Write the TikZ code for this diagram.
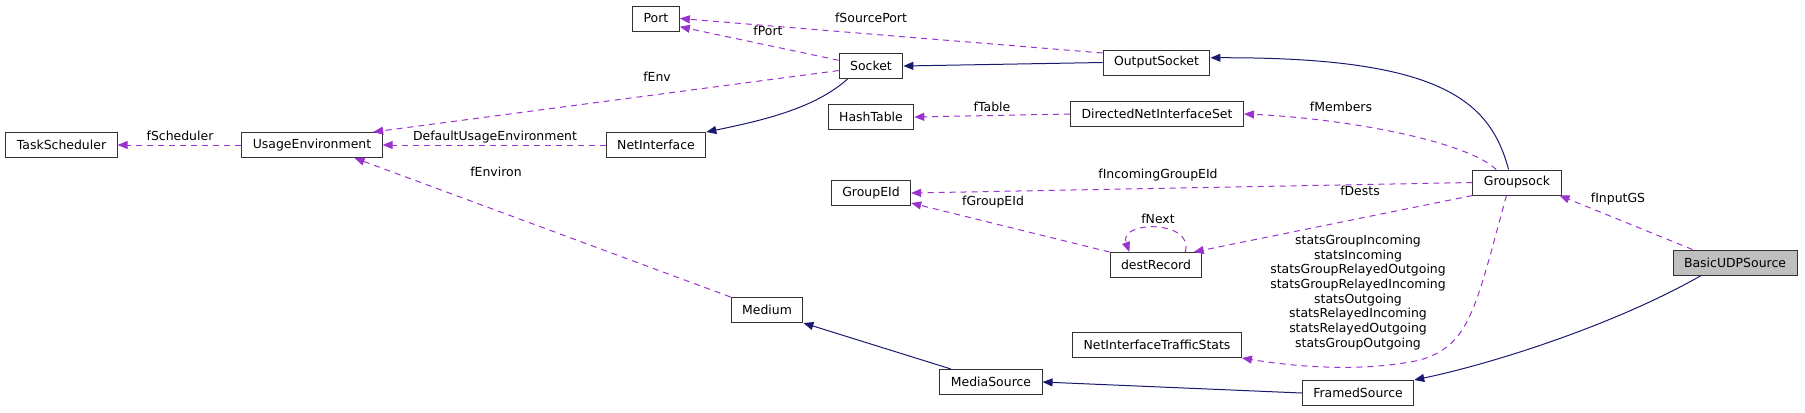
\documentclass[tikz,border=0pt]{standalone}
\usepackage{fontspec}
\setmainfont{DejaVu Sans}
\usetikzlibrary{arrows.meta}
\definecolor{usecol}{HTML}{9A32CD}
\definecolor{inhcol}{HTML}{191970}
\begin{document}
\begin{tikzpicture}[x=1bp, y=-1bp, font=\fontsize{12.5}{14.7}\selectfont,
	cls/.style={draw=black!80, line width=1bp, inner xsep=11bp, inner ysep=0bp, minimum height=25bp},
	uses/.style={draw=usecol, line width=1bp, dash pattern=on 6bp off 5bp, -{Triangle[length=10bp,width=8bp]}},
	inh/.style={draw=inhcol, line width=1bp, -{Triangle[length=10bp,width=8bp]}},
	lbl/.style={inner sep=0pt}]
	\useasboundingbox (0,0) rectangle (1805,412);
	\node[cls] (port) at (656,18.5) {Port};
	\node[cls] (socket) at (871,66) {Socket};
	\node[cls] (outsock) at (1156.5,62.5) {OutputSocket};
	\node[cls] (hash) at (871,117) {HashTable};
	\node[cls] (dnis) at (1157,114) {DirectedNetInterfaceSet};
	\node[cls] (task) at (61.5,145) {TaskScheduler};
	\node[cls] (env) at (312,145) {UsageEnvironment};
	\node[cls] (netif) at (656,145) {NetInterface};
	\node[cls] (geid) at (871,193) {GroupEId};
	\node[cls] (gsock) at (1517,182.5) {Groupsock};
	\node[cls] (drec) at (1156,265) {destRecord};
	\node[cls, fill=black!25] (budp) at (1735,262.5) {BasicUDPSource};
	\node[cls] (medium) at (767,310) {Medium};
	\node[cls] (nits) at (1157,345) {NetInterfaceTrafficStats};
	\node[cls] (msrc) at (991,382) {MediaSource};
	\node[cls] (fsrc) at (1358,393) {FramedSource};
	\draw[uses] (env.west) -- (task.east);
	\draw[uses] (netif.west) -- (env.east);
	\draw[uses] (socket.188) -- (env.12);
	\draw[uses] (medium.north west) -- (env.-17);
	\draw[uses] (socket.170) -- (port.-19);
	\draw[uses] (outsock.170) -- (port.east);
	\draw[inh] (outsock.west) -- (socket.east);
	\draw[inh] (socket.209) .. controls (815,108) and (765,120) .. (netif.north east);
	\draw[uses] (dnis.west) -- (hash.east);
	\draw[uses] (gsock.148) .. controls (1465,140) and (1340,118) .. (dnis.east);
	\draw[inh] (gsock.123) .. controls (1490,100) and (1440,57) .. (outsock.5);
	\draw[uses] (gsock.west) -- (geid.east);
	\draw[uses] (gsock.south west) -- (drec.19);
	\draw[uses] (drec.north west) -- (geid.-14);
	\draw[uses] (drec.24) .. controls (1195,220) and (1118,220) .. (drec.154);
	\draw[uses] (gsock.231) .. controls (1475,310) and (1470,345) .. (1420,360) .. controls (1360,373) and (1290,366) .. (nits.south east);
	\draw[uses] (budp.163) -- (gsock.-17);
	\draw[inh] (budp.201) .. controls (1620,322) and (1500,362) .. (fsrc.north east);
	\draw[inh] (fsrc.west) -- (msrc.east);
	\draw[inh] (msrc.162) -- (medium.south east);
	\node[lbl] (lsched) at (180,136) {fScheduler};
	\node[lbl] (ldefenv) at (495,137) {DefaultUsageEnvironment};
	\node[lbl] (lenv) at (657,77) {fEnv};
	\node[lbl] (lport) at (768,31) {fPort};
	\node[lbl] (lsrcport) at (871,18) {fSourcePort};
	\node[lbl] (ltable) at (992,107) {fTable};
	\node[lbl] (lmembers) at (1341,107) {fMembers};
	\node[lbl] (lincoming) at (1158,175) {fIncomingGroupEId};
	\node[lbl] (ldests) at (1360,191) {fDests};
	\node[lbl] (lgroupeid) at (993,202) {fGroupEId};
	\node[lbl] (lnext) at (1158,219) {fNext};
	\node[lbl] (linput) at (1618,199) {fInputGS};
	\node[lbl] (lenviron) at (496,172) {fEnviron};
	\node[lbl, align=center] (lstats) at (1358,292.5) {statsGroupIncoming\\statsIncoming\\statsGroupRelayedOutgoing\\statsGroupRelayedIncoming\\statsOutgoing\\statsRelayedIncoming\\statsRelayedOutgoing\\statsGroupOutgoing};
\end{tikzpicture}
\end{document}
